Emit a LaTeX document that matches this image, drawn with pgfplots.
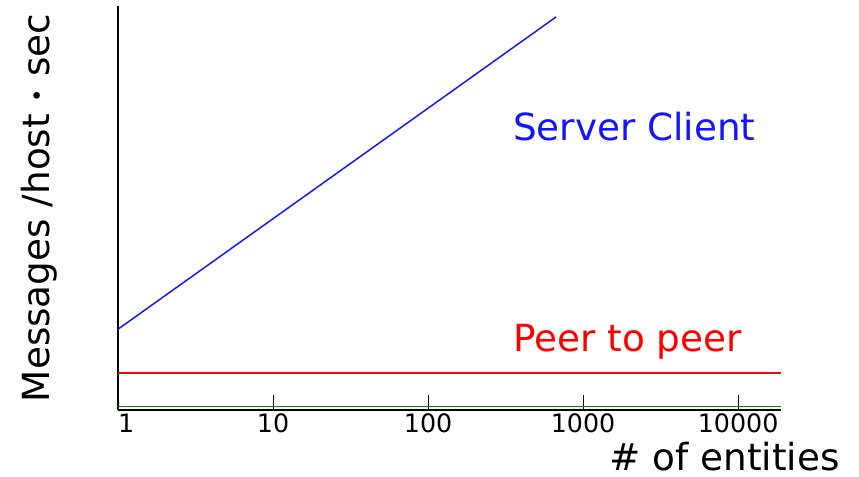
\documentclass[border=0pt]{standalone}
\usepackage{pgfplots}
\pgfplotsset{compat=1.18}
\usepackage{fontspec}
\setmainfont{DejaVu Sans}
\definecolor{scblue}{RGB}{20,20,255}
\definecolor{ppred}{RGB}{255,0,0}
\definecolor{lgreen}{RGB}{0,140,0}
\newcommand{\tl}[1]{\mbox{\fontsize{19}{19}\selectfont #1}}
\begin{document}
\begin{tikzpicture}
\path[use as bounding box] (-88.5pt,-49.5pt) rectangle (555.75pt,307.5pt);
\begin{axis}[
  at={(0,0)}, anchor=south west,
  scale only axis, width=497.25pt, height=303pt,
  xmode=log, xmin=1, xmax=18900,
  ymin=0, ymax=100,
  axis x line*=bottom, axis y line*=left,
  x axis line style={-, line width=1.5pt},
  y axis line style={-, line width=1.2pt},
  ytick=\empty,
  xtick={1,10,100,1000,10000},
  xticklabels={\makebox[0pt][l]{\tl{1}},\tl{10},\tl{100},\tl{1000},\tl{10000}},
  xminorticks=false,
  tick align=inside, major tick length=11pt,
  tick style={black, line width=0.8pt},
  x tick label style={anchor=base, yshift=-17pt},
  clip=false,
]
\addplot[scblue, line width=1.1pt] coordinates {(1,20) (670,97.3)};
\addplot[ppred, line width=1.1pt] coordinates {(1,9.2) (18900,9.2)};
\addplot[lgreen, line width=1.2pt] coordinates {(1,0.9) (18900,0.9)};
\end{axis}
\node[rotate=90, anchor=base, font=\fontsize{28}{28}\selectfont] at (-51pt,151.5pt) {Messages /host \raisebox{3pt}{\fontsize{17}{17}\selectfont •} sec};
\node[anchor=base east, inner sep=0pt, font=\fontsize{28}{28}\selectfont] at (541.5pt,-45pt) {\# of entities};
\node[anchor=base west, inner sep=0pt, text=scblue, font=\fontsize{28}{28}\selectfont] at (296.25pt,202.5pt) {Server Client};
\node[anchor=base west, inner sep=0pt, text=ppred, font=\fontsize{28}{28}\selectfont] at (296.25pt,44.25pt) {Peer to peer};
\end{tikzpicture}
\end{document}
